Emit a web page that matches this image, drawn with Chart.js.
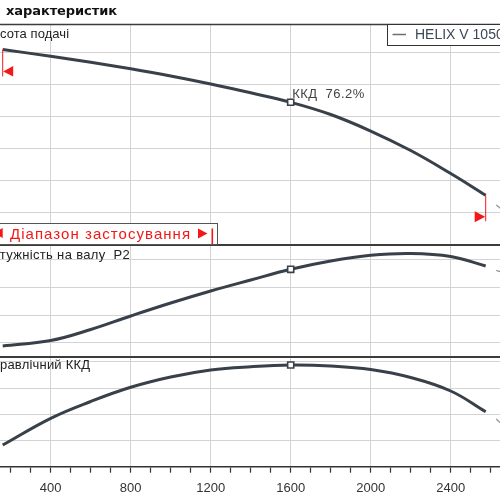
<!DOCTYPE html>
<html><head><meta charset="utf-8">
<script src="https://cdn.jsdelivr.net/npm/chart.js@4.4.1/dist/chart.umd.min.js"></script>
<style>
html,body{margin:0;padding:0;background:#fff;}
#wrap{position:relative;width:500px;height:500px;overflow:hidden;background:#fff;}
canvas{position:absolute;left:0;}
</style></head><body>
<div id="wrap">
<canvas id="cH" width="500" height="245" style="top:0px"></canvas>
<canvas id="cP" width="500" height="112" style="top:245px"></canvas>
<canvas id="cE" width="500" height="143" style="top:357px"></canvas>
</div>
<script>
// ---- data ----
const flow  = [160, 400, 600, 800, 1000, 1200, 1400, 1600, 1800, 2000, 2200, 2400, 2575];
const head  = [30.55, 29.48, 28.55, 27.53, 26.41, 25.16, 23.78, 22.3, 20.39, 17.81, 14.76, 11.17, 7.77];
const power = [0.0873, 0.1073, 0.1473, 0.1964, 0.2436, 0.2873, 0.3273, 0.3662, 0.3964, 0.4171, 0.4236, 0.4127, 0.3782];
const eff   = [16.56, 36.95, 49.77, 60.61, 68.47, 73.82, 76.34, 77.63, 76.87, 74.2, 68.09, 57.79, 41.98];
const extFlow  = [2628, 2650];
const extHead  = [6.25, 5.7];
const extPower = [0.362, 0.357];
const extEff   = [36.4, 33.2];
const xTicks = [200, 300, 400, 500, 600, 700, 800, 900, 1000, 1100, 1200, 1300, 1400, 1500, 1600, 1700, 1800, 1900, 2000, 2100, 2200, 2300, 2400, 2500, 2600];
const xLabelStep = 400;
const headGrid  = [5, 10, 15, 20, 25, 30];
const powerGrid = [0.1, 0.2, 0.3, 0.4];
const effGrid   = [20, 40, 60, 80];
const dutyFlow = 1600;
const dutyLabel = 'ККД  76.2%';
const rangeStart = 160, rangeEnd = 2575;
const titleText = 'характеристик';
const headLabel = 'Висота подачі';
const powerLabel = 'Потужність на валу  P2';
const effLabel = 'Гідравлічний ККД';
const rangeLabel = 'Діапазон застосування';
const legendLabel = 'HELIX V 1050';

// ---- view ----
const xMin = 146.5, xMax = 2646.5;
const curveColor = '#384049';
const gridColor = '#d3d3d3';
const borderColor = '#3c3c3c';
const red = '#f21818';

Chart.defaults.font.family = '"Liberation Sans", Arial, sans-serif';
Chart.defaults.color = '#333';

function pts(xs, ys){ return xs.map((x,i)=>({x:x, y:ys[i]})); }

function hLine(ctx, x1, x2, y, color, w){
  ctx.save(); ctx.strokeStyle=color; ctx.lineWidth=w;
  ctx.beginPath(); ctx.moveTo(x1,y); ctx.lineTo(x2,y); ctx.stroke(); ctx.restore();
}
function fitText(ctx, text, x, y, target, hiddenPrefix){
  const hasLS = ('letterSpacing' in ctx);
  if (hasLS) ctx.letterSpacing = '0px';
  const vis = hiddenPrefix ? text.slice(hiddenPrefix.length) : text;
  const w = ctx.measureText(vis).width;
  const ls = target ? (target - w) / Math.max(1, vis.length - 1) : 0;
  if (hasLS) ctx.letterSpacing = ls.toFixed(2) + 'px';
  const off = hiddenPrefix ? ctx.measureText(hiddenPrefix).width : 0;
  ctx.fillText(text, x - off, y);
  if (hasLS) ctx.letterSpacing = '0px';
}

function xScale(showLabels){
  const base = {
    type:'linear', min:xMin, max:xMax,
    afterBuildTicks: s => { s.ticks = xTicks.map(v=>({value:v})); },
    grid:{ color: c => (c.tick && c.tick.value % xLabelStep === 0) ? gridColor : 'rgba(0,0,0,0)', lineWidth:1 },
  };
  if (showLabels){
    base.afterFit = s => { s.height = 33.3; };
    base.grid.drawTicks = true; base.grid.tickLength = 6; base.grid.tickColor = '#333'; base.grid.tickWidth = 1.2;
    base.border = {display:true, color:'#333', width:1.6};
    base.ticks = {autoSkip:false, maxRotation:0, minRotation:0, padding:8, color:'#333', font:{size:13},
      callback: v => (v % xLabelStep === 0) ? String(v) : ''};
  } else {
    base.afterFit = s => { s.height = 0; };
    base.grid.drawTicks = false;
    base.border = {display:false};
    base.ticks = {display:false, autoSkip:false};
  }
  return base;
}
function yScale(min, max, grid){
  return {
    type:'linear', min:min, max:max,
    afterBuildTicks: s => { s.ticks = grid.map(v=>({value:v})); },
    afterFit: s => { s.width = 0; },
    grid:{ color:gridColor, lineWidth:1, drawTicks:false },
    border:{display:false},
    ticks:{display:false}
  };
}
function curveDs(ys){
  return {
    data: pts(flow, ys), borderColor: curveColor, borderWidth: 3, tension: 0.4,
    pointStyle:'rect', pointBackgroundColor:'#fff', pointBorderColor:curveColor, pointBorderWidth:1.6,
    pointRadius: c => (flow[c.dataIndex] === dutyFlow ? 4.3 : 0), fill:false
  };
}
function extDs(ys){
  return { data: pts(extFlow, ys), borderColor:'#8a8f96', borderWidth:1.2, pointRadius:0, fill:false };
}
function baseOpts(scales, padTop){
  return {
    responsive:false, maintainAspectRatio:false, animation:false, devicePixelRatio:1, events:[],
    layout:{padding:{top:padTop||0, left:0, right:0, bottom:0}},
    plugins:{legend:{display:false}, tooltip:{enabled:false}},
    scales: scales
  };
}

// ---- head panel ----
const headPlugin = {
  id:'headDeco',
  afterDraw(chart){
    const ctx = chart.ctx, ca = chart.chartArea, xs = chart.scales.x, ys = chart.scales.y;
    hLine(ctx, 0, 500, ca.top + 0.5, borderColor, 1.4);
    hLine(ctx, 0, 500, ca.bottom - 0.5, borderColor, 1.2);
    ctx.save();
    ctx.fillStyle = '#111'; ctx.font = 'bold 13px "DejaVu Sans"'; ctx.textBaseline = 'alphabetic';
    fitText(ctx, titleText, 6, 14.5, 111);
    ctx.fillStyle = '#222'; ctx.font = '13px "Liberation Sans"';
    fitText(ctx, headLabel, 0, 37.5, 69, 'Ви');
    const dx = xs.getPixelForValue(dutyFlow), dy = ys.getPixelForValue(head[flow.indexOf(dutyFlow)]);
    ctx.fillStyle = '#444'; ctx.font = '13px "Liberation Sans"';
    fitText(ctx, dutyLabel, dx + 1.5, dy - 4.5, 72);
    const x1 = xs.getPixelForValue(rangeStart), y1 = ys.getPixelForValue(head[0]);
    const x2 = xs.getPixelForValue(rangeEnd), y2 = ys.getPixelForValue(head[head.length-1]);
    ctx.strokeStyle = red; ctx.lineWidth = 1; ctx.fillStyle = red;
    ctx.beginPath(); ctx.moveTo(x1, y1); ctx.lineTo(x1, y1 + 27); ctx.stroke();
    ctx.beginPath(); ctx.moveTo(x1 + 0.5, y1 + 22); ctx.lineTo(x1 + 10.5, y1 + 16.5); ctx.lineTo(x1 + 10.5, y1 + 27); ctx.closePath(); ctx.fill();
    ctx.beginPath(); ctx.moveTo(x2, y2); ctx.lineTo(x2, y2 + 26); ctx.stroke();
    ctx.beginPath(); ctx.moveTo(x2 - 0.5, y2 + 21.5); ctx.lineTo(x2 - 11, y2 + 16); ctx.lineTo(x2 - 11, y2 + 27); ctx.closePath(); ctx.fill();
    ctx.fillStyle = '#fff'; ctx.fillRect(-5, 223.5, 222.5, 21);
    ctx.strokeStyle = '#555'; ctx.lineWidth = 1; ctx.strokeRect(-5, 223.5, 222.5, 21);
    ctx.fillStyle = red;
    ctx.beginPath(); ctx.moveTo(-6.5, 233); ctx.lineTo(2.7, 228); ctx.lineTo(2.7, 238); ctx.closePath(); ctx.fill();
    ctx.font = '15px "Liberation Sans"';
    fitText(ctx, rangeLabel, 10, 238.5, 180);
    ctx.beginPath(); ctx.moveTo(198, 228.5); ctx.lineTo(207.5, 233.5); ctx.lineTo(198, 238.5); ctx.closePath(); ctx.fill();
    ctx.fillRect(211.5, 228.5, 1.6, 15.5);
    ctx.fillStyle = '#fff'; ctx.fillRect(387.5, 24.5, 130, 21);
    ctx.strokeStyle = '#333'; ctx.lineWidth = 1; ctx.strokeRect(387.5, 24.5, 130, 21);
    ctx.strokeStyle = '#66717c'; ctx.lineWidth = 1.5;
    ctx.beginPath(); ctx.moveTo(392.5, 34.5); ctx.lineTo(406, 34.5); ctx.stroke();
    ctx.fillStyle = '#3b4856'; ctx.font = '14px "Liberation Sans"';
    fitText(ctx, legendLabel, 415, 39, 0);
    ctx.restore();
  }
};
new Chart(document.getElementById('cH'), {
  type:'line',
  data:{datasets:[curveDs(head), extDs(extHead)]},
  options: baseOpts({x: xScale(false), y: yScale(0, 34.53, headGrid)}, 24),
  plugins:[headPlugin]
});

// ---- power panel ----
const powerPlugin = {
  id:'powerDeco',
  afterDraw(chart){
    const ctx = chart.ctx, ca = chart.chartArea;
    hLine(ctx, 0, 500, ca.top + 0.5, borderColor, 1.2);
    hLine(ctx, 0, 500, ca.bottom - 0.5, borderColor, 1.2);
    ctx.save();
    ctx.fillStyle = '#222'; ctx.font = '13px "Liberation Sans"';
    fitText(ctx, powerLabel, 0, 14, 130, 'По');
    ctx.restore();
  }
};
new Chart(document.getElementById('cP'), {
  type:'line',
  data:{datasets:[curveDs(power), extDs(extPower)]},
  options: baseOpts({x: xScale(false), y: yScale(0.0473, 0.4545, powerGrid)}),
  plugins:[powerPlugin]
});

// ---- efficiency panel ----
const effPlugin = {
  id:'effDeco',
  afterDraw(chart){
    const ctx = chart.ctx, ca = chart.chartArea;
    hLine(ctx, 0, 500, ca.top + 0.5, borderColor, 1.2);
    ctx.save();
    ctx.fillStyle = '#222'; ctx.font = '13px "Liberation Sans"';
    fitText(ctx, effLabel, 0, 12.3, 90, 'Гід');
    ctx.restore();
  }
};
new Chart(document.getElementById('cE'), {
  type:'line',
  data:{datasets:[curveDs(eff), extDs(extEff)]},
  options: baseOpts({x: xScale(true), y: yScale(0, 83.74, effGrid)}),
  plugins:[effPlugin]
});
</script>
</body></html>
